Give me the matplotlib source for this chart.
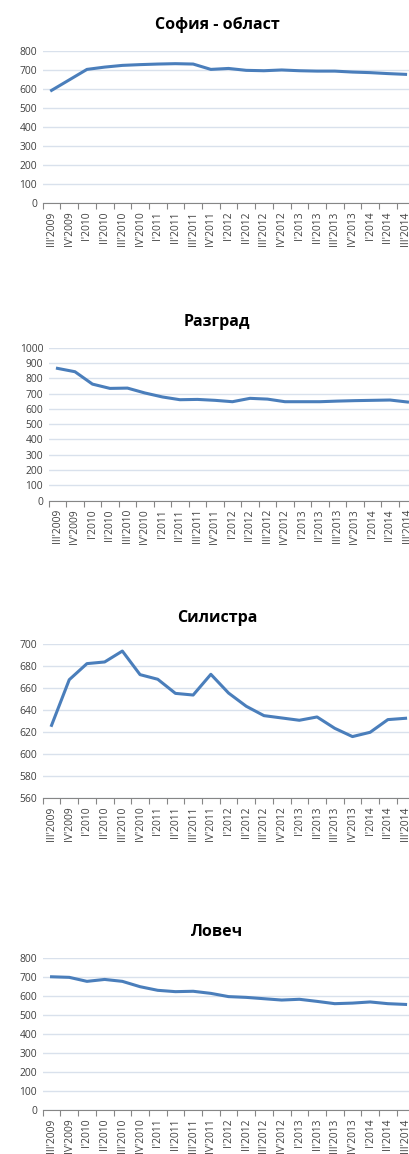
import matplotlib
matplotlib.use("Agg")
import matplotlib.pyplot as plt
from matplotlib.ticker import FixedLocator

# quarters shown on every x axis
quarters = ["III'2009", "IV'2009", "I'2010", "II'2010", "III'2010", "IV'2010",
            "I'2011", "II'2011", "III'2011", "IV'2011", "I'2012", "II'2012",
            "III'2012", "IV'2012", "I'2013", "II'2013", "III'2013", "IV'2013",
            "I'2014", "II'2014", "III'2014"]

sofia_obl = [592, 647, 702, 714, 723, 727, 730, 732, 730, 702, 707, 697,
             695, 699, 695, 693, 693, 688, 685, 680, 676]
razgrad = [865, 843, 762, 734, 736, 704, 678, 660, 662, 656, 647, 669,
           664, 647, 647, 647, 651, 654, 656, 658, 645]
silistra = [626.2, 667.6, 682.2, 683.7, 693.6, 672.2, 668.0, 655.2, 653.7,
            672.5, 655.5, 643.5, 635.0, 632.9, 630.8, 633.8, 623.5, 616.0,
            619.9, 631.4, 632.6]
lovech = [700, 697, 676, 686, 676, 648, 629, 622, 624, 613, 596, 592,
          585, 578, 582, 571, 559, 562, 568, 559, 555]

titles = ["София - област", "Разград", "Силистра", "Ловеч"]
series = [sofia_obl, razgrad, silistra, lovech]
yranges = [(0, 800, 100), (0, 1000, 100), (560, 700, 20), (0, 800, 100)]

W, H = 409, 1154
# pixel layout: left edge, category width, y of top limit, y of bottom limit, title y
layout = [(42.7, 17.7, 50.7, 203.3, 25),
          (48.7, 17.5, 347.7, 500.7, 321.7),
          (42.7, 17.7, 644.0, 798.3, 618.3),
          (42.7, 17.7, 957.7, 1110.3, 931.7)]

plt.rcParams['font.family'] = ['Open Sans', 'DejaVu Sans']
line_color = "#4A7EBB"
grid_color = "#D9E1EC"

fig = plt.figure(figsize=(W / 100, H / 100), dpi=100)

for title, vals, (y0, y1, step), (lx, cw, ytop, ybot, ty) in zip(titles, series, yranges, layout):
    n = len(quarters)
    ax = fig.add_axes([lx / W, 1 - ybot / H, n * cw / W, (ybot - ytop) / H])
    ax.plot(range(n), vals, color=line_color, linewidth=2.2, solid_joinstyle='round')
    ax.set_xlim(-0.5, n - 0.5)
    ax.set_ylim(y0, y1)
    ax.set_yticks(list(range(y0, y1 + 1, step)))
    ax.yaxis.grid(True, color=grid_color, linewidth=1)
    ax.set_axisbelow(True)
    ax.set_xticks(range(n))
    ax.set_xticklabels(quarters, rotation=90, fontsize=7.4, color="#404040")
    ax.xaxis.set_minor_locator(FixedLocator([i - 0.5 for i in range(n + 1)]))
    ax.tick_params(axis='x', which='major', length=0, pad=6)
    ax.tick_params(axis='x', which='minor', length=4, color="#868686", width=0.8)
    ax.tick_params(axis='y', length=0, labelsize=7.4, labelcolor="#404040", pad=4)
    for s in ['top', 'right', 'left']:
        ax.spines[s].set_visible(False)
    ax.spines['bottom'].set_color("#868686")
    ax.spines['bottom'].set_linewidth(0.8)
    fig.text(217 / W, 1 - ty / H, title, ha='center', va='center',
             fontsize=11.5, fontweight='bold', color="black")

fig.savefig("out.png", dpi=100)
